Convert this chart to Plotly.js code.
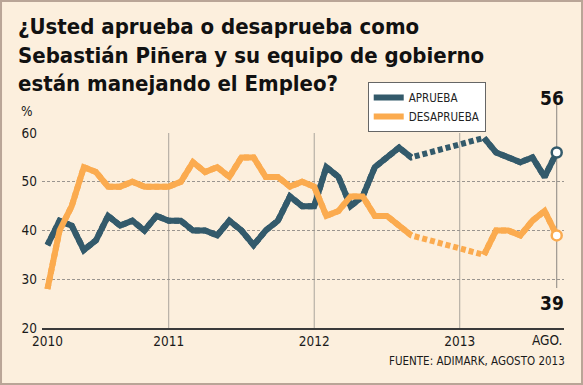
<!DOCTYPE html>
<html><head><meta charset="utf-8">
<script src="https://cdn.plot.ly/plotly-3.0.1.min.js"></script>
<style>html,body{margin:0;padding:0;background:#fcefdd}#chart{width:583px;height:385px}</style>
</head><body><div id="chart"></div>
<script>
// Monthly survey index (0 = first measurement, 2010); null = no survey
const monthIndex = [0,1,2,3,4,5,6,7,8,9,10,11,12,13,14,15,16,17,18,19,20,21,22,23,24,25,26,27,28,29,30,31,32,33,34,35,36,37,38,39,40,41,42];
const aprueba = [37,42,41,36,38,43,41,42,40,43,42,42,40,40,39,42,40,37,40,42,47,45,45,53,51,45,47,53,55,57,55,null,null,null,null,null,59,56,55,54,55,51,56];
const desaprueba = [28,40,45,53,52,49,49,50,49,49,49,50,54,52,53,51,55,55,51,51,49,50,49,43,44,47,47,43,43,41,39,null,null,null,null,null,35,40,40,39,42,44,39];
const yearTickIndex = [0,10,22,34];
const yearTickLabels = ['2010','2011','2012','2013'];
const seriesNames = ['APRUEBA','DESAPRUEBA'];

const BLUE = '#335a6b', ORANGE = '#fbab4f', BG = '#fcefdd';
const FONT = '"DejaVu Sans Condensed", "DejaVu Sans", sans-serif';
const lastIdx = monthIndex[monthIndex.length-1];
const lastA = aprueba[aprueba.length-1], lastD = desaprueba[desaprueba.length-1];

const data = [
  {x: monthIndex, y: aprueba, mode:'lines', connectgaps:true, line:{color:BLUE,width:6,dash:'5px,3px'}, showlegend:false, hoverinfo:'skip'},
  {x: monthIndex, y: desaprueba, mode:'lines', connectgaps:true, line:{color:ORANGE,width:6,dash:'5px,3px'}, showlegend:false, hoverinfo:'skip'},
  {x: monthIndex, y: aprueba, name: seriesNames[0], mode:'lines', connectgaps:false, line:{color:BLUE,width:6}},
  {x: monthIndex, y: desaprueba, name: seriesNames[1], mode:'lines', connectgaps:false, line:{color:ORANGE,width:6}},
  {x:[lastIdx], y:[lastA], mode:'markers', showlegend:false, marker:{symbol:'circle', size:10, color:'#ffffff', line:{color:BLUE,width:2.5}}, cliponaxis:false},
  {x:[lastIdx], y:[lastD], mode:'markers', showlegend:false, marker:{symbol:'circle', size:10, color:'#ffffff', line:{color:ORANGE,width:2.5}}, cliponaxis:false}
];

const shapes = yearTickIndex.slice(1).map(v => ({type:'line', xref:'x', yref:'paper', x0:v, x1:v, y0:0, y1:1, line:{color:'#aaa49c', width:1}, layer:'below'}));
shapes.push({type:'line', xref:'x', yref:'paper', x0:lastIdx, x1:lastIdx, y0:0.205, y1:1.144, line:{color:'#8a8680', width:1}, layer:'below'});
shapes.push({type:'rect', xref:'paper', yref:'paper', x0:-0.0785, x1:1.0345, y0:-0.287, y1:1.677, line:{color:'#b9a597', width:2}, fillcolor:'rgba(0,0,0,0)'});

const layout = {
  width:583, height:385,
  margin:{l:42, r:19, t:133, b:57},
  paper_bgcolor:BG, plot_bgcolor:BG,
  font:{family:FONT, color:'#1a1a1a', size:13.5},
  title:{text:'¿Usted aprueba o desaprueba como<br>Sebastián Piñera y su equipo de gobierno<br>están manejando el Empleo?',
         font:{family:FONT, size:22, weight:'bold', color:'#111'},
         xref:'container', yref:'container', x:18/583, xanchor:'left', y:1-34/385, yanchor:'top'},
  xaxis:{range:[-0.45,42.6], showgrid:false, zeroline:false, showline:true, linecolor:'#3a3a3a', linewidth:2,
         tickmode:'array', tickvals:yearTickIndex, ticktext:yearTickLabels, ticks:'', tickfont:{size:13.5}},
  yaxis:{range:[20,60], dtick:10, tick0:20, showgrid:true, gridcolor:'#9a958f', gridwidth:1, griddash:'3px,2px',
         zeroline:false, showline:false, ticks:'', tickfont:{size:13.5}, ticklabelstandoff:4},
  showlegend:true,
  legend:{x:0.624, y:1.262, xanchor:'left', yanchor:'top', bgcolor:'#ffffff', bordercolor:'#666', borderwidth:1,
          font:{size:11.5, color:'#222'}},
  shapes:shapes,
  annotations:[
    {text:'%', xref:'paper', yref:'paper', x:-0.045, y:1.113, xanchor:'left', yanchor:'middle', showarrow:false, font:{size:13.5}},
    {text:String(lastA), xref:'x', yref:'paper', x:lastIdx, xshift:-5, y:1.181, xanchor:'center', yanchor:'middle', showarrow:false, font:{size:19, weight:'bold', color:'#111'}},
    {text:String(lastD), xref:'x', yref:'paper', x:lastIdx, xshift:-5, y:0.130, xanchor:'center', yanchor:'middle', showarrow:false, font:{size:19, weight:'bold', color:'#111'}},
    {text:'AGO.', xref:'paper', yref:'paper', x:1.0, y:-0.059, xanchor:'right', yanchor:'middle', showarrow:false, font:{size:13.5}},
    {text:'FUENTE: ADIMARK, AGOSTO 2013', xref:'paper', yref:'paper', x:1.006, y:-0.168, xanchor:'right', yanchor:'middle', showarrow:false, font:{size:11.5}}
  ]
};
Plotly.newPlot('chart', data, layout, {displayModeBar:false});
</script></body></html>
